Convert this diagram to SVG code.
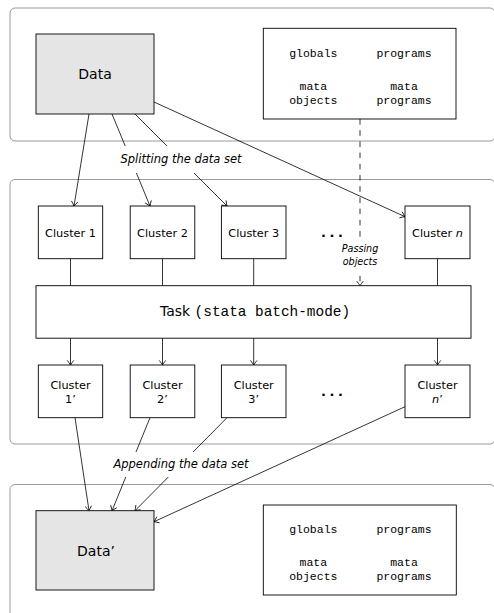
<svg xmlns="http://www.w3.org/2000/svg" width="494" height="613" viewBox="0 0 494 613">
<defs>
<marker id="arr" markerUnits="userSpaceOnUse" markerWidth="12" markerHeight="12" viewBox="-6 -6 12 12" refX="0" refY="0" orient="auto" overflow="visible">
<path d="M -4.6 -3.3 Q -1.6 -0.9 0 0 Q -1.6 0.9 -4.6 3.3" fill="none" stroke="#000" stroke-width="0.8"/>
</marker>
<style>
.cont{fill:#fff;stroke:#999;stroke-width:1}
.box{fill:#fff;stroke:#000;stroke-width:0.9}
.data{fill:#e5e5e5;stroke:#000;stroke-width:0.9}
.sans{font-family:"DejaVu Sans",sans-serif;fill:#000}
.lbl{font-size:11.3px;text-anchor:middle}
.big{font-size:14px;text-anchor:middle}
.it{font-family:"DejaVu Sans",sans-serif;font-style:italic;fill:#000;text-anchor:middle}
.mono{font-family:"Liberation Mono","DejaVu Sans Mono",monospace;font-size:11.5px;text-anchor:middle;fill:#000}
.ln{fill:none;stroke:#000;stroke-width:0.8}
.ar{fill:none;stroke:#000;stroke-width:0.8;marker-end:url(#arr)}
.dots{font-family:"DejaVu Sans",sans-serif;font-size:13px;font-weight:bold;letter-spacing:3.6px;fill:#000}
</style>
</defs>
<rect width="494" height="613" fill="#fff"/>
<g id="containers">
<rect id="stage-top" class="cont" x="10" y="8" width="485" height="133" rx="5"/>
<rect id="stage-mid" class="cont" x="10" y="179.5" width="485" height="264.5" rx="5"/>
<rect id="stage-bottom" class="cont" x="10" y="484.5" width="485" height="140" rx="5"/>
</g>
<g id="connectors">
<line class="ar" x1="89" y1="114" x2="74" y2="206"/>
<line class="ar" x1="112" y1="114" x2="150" y2="206"/>
<line class="ar" x1="135" y1="114" x2="227" y2="206"/>
<line class="ar" x1="154" y1="102" x2="405" y2="216.7"/>
<line class="ln" x1="70.5" y1="258.7" x2="70.5" y2="285.7"/>
<line class="ln" x1="162.5" y1="258.7" x2="162.5" y2="285.7"/>
<line class="ln" x1="253.7" y1="258.7" x2="253.7" y2="285.7"/>
<line class="ln" x1="437.5" y1="258.7" x2="437.5" y2="285.7"/>
<line class="ar" x1="70.5" y1="338.2" x2="70.5" y2="365"/>
<line class="ar" x1="162.5" y1="338.2" x2="162.5" y2="365"/>
<line class="ar" x1="253.7" y1="338.2" x2="253.7" y2="365"/>
<line class="ar" x1="437.5" y1="338.2" x2="437.5" y2="365"/>
<line class="ar" x1="75" y1="417.7" x2="89" y2="510.7"/>
<line class="ar" x1="150" y1="417.7" x2="112" y2="510.7"/>
<line class="ar" x1="227" y1="417.7" x2="135" y2="510.7"/>
<line class="ar" x1="405" y1="406.7" x2="154" y2="521.7"/>
<line class="ar" x1="360" y1="119" x2="360" y2="285.7" stroke-dasharray="5.6 5.6"/>
</g>
<g id="label-splitting">
<rect x="116" y="146" width="130" height="27" fill="#fff"/>
<text class="it" x="181" y="163" font-size="11.5">Splitting the data set</text>
</g>
<g id="label-appending">
<rect x="111" y="452" width="140" height="25" fill="#fff"/>
<text class="it" x="181" y="468" font-size="11.5">Appending the data set</text>
</g>
<g id="label-passing">
<rect x="340" y="238" width="40" height="37" fill="#fff"/>
<text class="it" x="360" y="251.5" font-size="9.6">Passing</text>
<text class="it" x="360" y="264.5" font-size="9.6">objects</text>
</g>
<g id="data">
<rect class="data" x="36" y="34" width="118" height="80"/>
<text class="sans big" x="95" y="79">Data</text>
</g>
<g id="objects-top">
<rect class="box" x="263.3" y="28.3" width="192.7" height="90.7"/>
<text class="mono" x="313.3" y="56.8">globals</text>
<text class="mono" x="404" y="56.8">programs</text>
<text class="mono" x="313.3" y="89.5">mata</text>
<text class="mono" x="313.3" y="103.5">objects</text>
<text class="mono" x="404" y="89.5">mata</text>
<text class="mono" x="404" y="103.5">programs</text>
</g>
<g id="cluster-1">
<rect class="box" x="38.3" y="206" width="64.4" height="52.7"/>
<text class="sans lbl" x="70.5" y="236.6">Cluster 1</text>
</g>
<g id="cluster-2">
<rect class="box" x="130.2" y="206" width="64.6" height="52.7"/>
<text class="sans lbl" x="162.5" y="236.6">Cluster 2</text>
</g>
<g id="cluster-3">
<rect class="box" x="221.4" y="206" width="64.6" height="52.7"/>
<text class="sans lbl" x="253.7" y="236.6">Cluster 3</text>
</g>
<g id="dots-top">
<text class="dots" x="321" y="236.8">...</text>
</g>
<g id="cluster-n">
<rect class="box" x="405" y="206" width="65" height="52.7"/>
<text class="sans lbl" x="437.5" y="236.6">Cluster <tspan font-style="italic">n</tspan></text>
</g>
<g id="task">
<rect class="box" x="36" y="285.7" width="435" height="52.5"/>
<text class="sans" x="255" y="316" text-anchor="middle" font-size="14">Task <tspan font-family="Liberation Mono, DejaVu Sans Mono, monospace" font-size="14.4">(stata batch-mode)</tspan></text>
</g>
<g id="cluster-1p">
<rect class="box" x="38.3" y="365" width="64.4" height="52.7"/>
<text class="sans lbl" x="70.5" y="389.3">Cluster</text>
<text class="sans lbl" x="70.5" y="402.6">1’</text>
</g>
<g id="cluster-2p">
<rect class="box" x="130.2" y="365" width="64.6" height="52.7"/>
<text class="sans lbl" x="162.5" y="389.3">Cluster</text>
<text class="sans lbl" x="162.5" y="402.6">2’</text>
</g>
<g id="cluster-3p">
<rect class="box" x="221.4" y="365" width="64.6" height="52.7"/>
<text class="sans lbl" x="253.7" y="389.3">Cluster</text>
<text class="sans lbl" x="253.7" y="402.6">3’</text>
</g>
<g id="dots-bottom">
<text class="dots" x="321" y="395.8">...</text>
</g>
<g id="cluster-np">
<rect class="box" x="405" y="365" width="65" height="52.7"/>
<text class="sans lbl" x="437.5" y="389.3">Cluster</text>
<text class="sans lbl" x="437.5" y="402.6"><tspan font-style="italic">n</tspan>’</text>
</g>
<g id="data-out">
<rect class="data" x="36" y="510.7" width="118" height="79.3"/>
<text class="sans big" x="96" y="555.7">Data’</text>
</g>
<g id="objects-bottom">
<rect class="box" x="263.3" y="505" width="193" height="90"/>
<text class="mono" x="313.3" y="533">globals</text>
<text class="mono" x="404" y="533">programs</text>
<text class="mono" x="313.3" y="565.5">mata</text>
<text class="mono" x="313.3" y="579.5">objects</text>
<text class="mono" x="404" y="565.5">mata</text>
<text class="mono" x="404" y="579.5">programs</text>
</g>
</svg>
